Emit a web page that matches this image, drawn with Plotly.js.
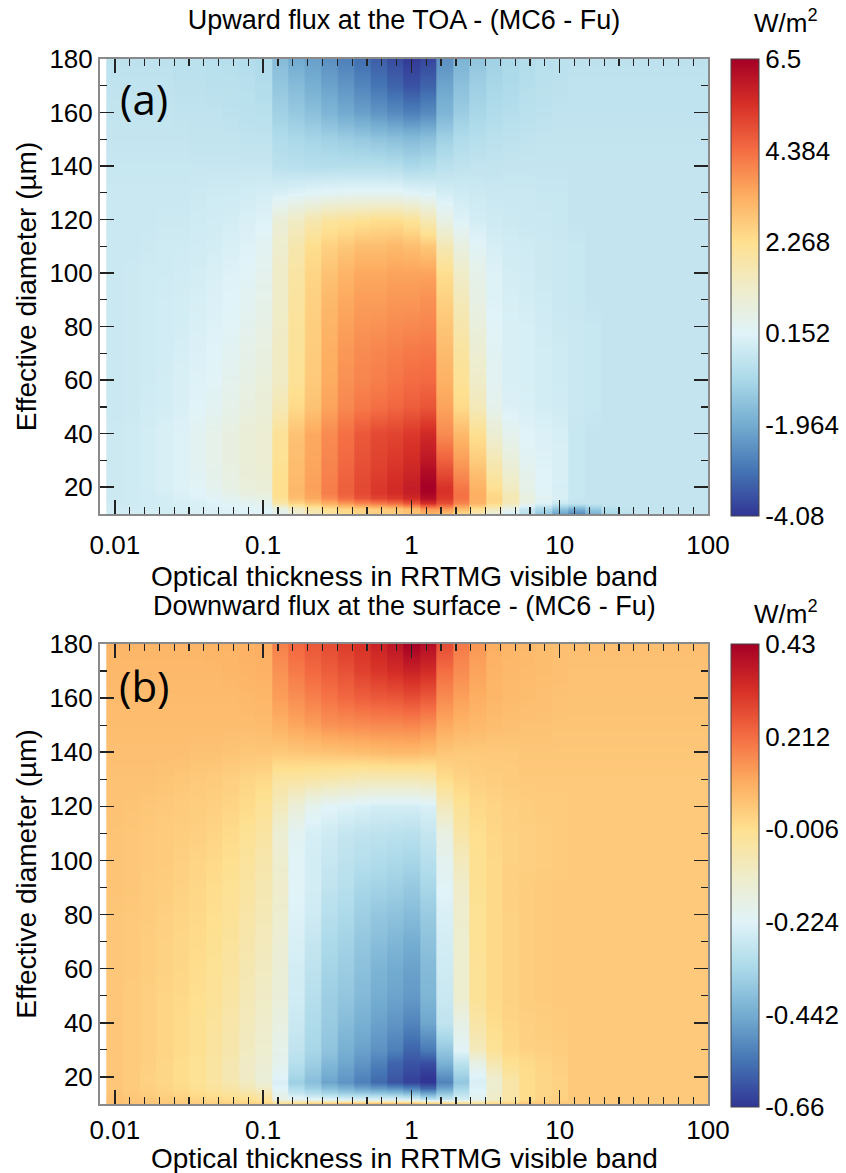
<!DOCTYPE html>
<html><head><meta charset="utf-8">
<script src="https://cdn.plot.ly/plotly-3.0.1.min.js"></script>
<style>html,body{margin:0;padding:0;background:#fff}#chart{width:846px;height:1173px}</style>
</head><body><div id="chart"></div>
<script>
// Optical thickness grid (column centres)
const tau = [0.01,0.01292,0.01668,0.02154,0.02783,0.03594,0.04642,0.05995,0.07743,
  0.1,0.1292,0.1668,0.2154,0.2783,0.3594,0.4642,0.5995,0.7743,
  1,1.292,1.668,2.154,2.783,3.594,4.642,5.995,7.743,
  10,12.92,16.68,21.54,27.83,35.94,46.42,59.95,77.43,100];
// Effective diameter rows (um)
const diameter = [10,12,14,16,18,20,25,30,40,50,60,70,80,90,100,110,120,130,140,150,160,170,180];

// (a) Upward flux at TOA, MC6 - Fu (W/m2); one row per diameter
const toaDiff = [
 [-0.15,-0.15,-0.1,-0.1,-0.05,0.0,0.0,0.05,0.1,0.1, 0.4,1.0,1.6,2.0,2.3,2.5,2.6,2.7,2.9,3.2,3.0,2.4,1.6,0.8,-0.1,-0.6,-1.4,-2.2, -2.7,-1.9,-1.0,-0.6,-0.4,-0.4,-0.4,-0.4,-0.4],
 [-0.15,-0.15,-0.1,-0.1,-0.05,0.0,0.05,0.1,0.15,0.2, 0.6,1.2,1.8,2.2,2.5,2.6,2.7,2.8,3.0,3.6,3.6,3.0,2.2,1.4,0.5,-0.4,-0.9,-1.5, -1.9,-1.3,-0.7,-0.45,-0.4,-0.4,-0.4,-0.4,-0.4],
 [-0.2,-0.2,-0.15,-0.1,-0.05,0.0,0.1,0.2,0.3,0.4, 1.8,2.5,2.9,3.3,3.7,4.0,4.2,4.4,4.8,5.5,4.9,4.0,3.2,2.4,1.5,0.6,0.1,-0.3, -0.45,-0.4,-0.4,-0.4,-0.4,-0.4,-0.4,-0.4,-0.4],
 [-0.25,-0.2,-0.15,-0.1,0.0,0.1,0.2,0.35,0.5,0.6, 2.2,3.0,3.4,3.9,4.4,4.8,5.1,5.3,5.6,6.2,5.3,4.3,3.3,2.5,1.6,0.7,0.3,0.0, -0.35,-0.4,-0.4,-0.4,-0.4,-0.4,-0.4,-0.4,-0.4],
 [-0.25,-0.2,-0.15,-0.05,0.05,0.15,0.3,0.5,0.7,0.8, 2.3,3.1,3.5,4.1,4.6,5.0,5.3,5.5,5.8,6.4,5.4,4.3,3.3,2.4,1.5,0.6,0.2,0.0, -0.35,-0.4,-0.4,-0.4,-0.4,-0.4,-0.4,-0.4,-0.4],
 [-0.25,-0.2,-0.1,0.0,0.1,0.2,0.4,0.6,0.8,0.9, 2.3,3.1,3.55,4.1,4.6,5.0,5.3,5.55,5.85,6.5,5.4,4.2,3.2,2.2,1.3,0.5,0.15,-0.05, -0.35,-0.4,-0.4,-0.4,-0.4,-0.4,-0.4,-0.4,-0.4],
 [-0.25,-0.2,-0.1,0.0,0.1,0.25,0.45,0.65,0.85,0.95, 2.25,3.05,3.5,4.05,4.55,4.95,5.2,5.45,5.7,6.3,5.0,3.9,3.0,1.9,1.1,0.45,0.15,0.0, -0.35,-0.4,-0.4,-0.4,-0.4,-0.4,-0.4,-0.4,-0.4],
 [-0.25,-0.2,-0.1,0.0,0.1,0.3,0.5,0.7,0.9,1.0, 2.2,3.0,3.45,4.0,4.45,4.85,5.1,5.3,5.55,6.0,4.6,3.6,2.7,1.6,0.8,0.3,0.1,0.0, -0.35,-0.4,-0.4,-0.4,-0.4,-0.4,-0.4,-0.4,-0.4],
 [-0.25,-0.2,-0.1,0.0,0.1,0.3,0.5,0.7,0.9,1.0, 2.1,2.9,3.4,3.9,4.35,4.75,5.0,5.1,5.3,5.6,3.9,3.1,2.25,1.0,0.4,0.15,0.05,-0.05, -0.35,-0.4,-0.4,-0.4,-0.4,-0.4,-0.4,-0.4,-0.4],
 [-0.3,-0.25,-0.15,-0.1,0.0,0.15,0.3,0.5,0.7,0.9, 1.6,2.4,2.9,3.5,3.95,4.2,4.35,4.5,4.65,4.8,3.5,2.4,1.5,0.45,0.05,0.0,-0.1,-0.15, -0.3,-0.35,-0.4,-0.4,-0.4,-0.4,-0.4,-0.4,-0.4],
 [-0.3,-0.25,-0.2,-0.1,0.0,0.1,0.2,0.4,0.6,0.8, 1.3,2.15,2.75,3.35,3.8,4.0,4.1,4.25,4.4,4.45,3.25,2.15,1.2,0.3,0.0,-0.05,-0.1,-0.2, -0.3,-0.35,-0.4,-0.4,-0.4,-0.4,-0.4,-0.4,-0.4],
 [-0.3,-0.25,-0.2,-0.15,-0.05,0.05,0.15,0.3,0.5,0.7, 1.3,2.1,2.7,3.3,3.7,3.9,4.0,4.1,4.2,4.25,3.05,2.0,1.0,0.25,0.0,-0.05,-0.1,-0.2, -0.3,-0.35,-0.4,-0.4,-0.4,-0.4,-0.4,-0.4,-0.4],
 [-0.3,-0.25,-0.2,-0.15,-0.1,0.0,0.1,0.2,0.4,0.6, 1.25,2.05,2.65,3.2,3.55,3.75,3.8,3.9,3.95,4.0,2.85,1.75,0.8,0.2,0.0,-0.05,-0.15,-0.25, -0.3,-0.35,-0.4,-0.4,-0.4,-0.4,-0.4,-0.4,-0.4],
 [-0.3,-0.25,-0.2,-0.15,-0.1,-0.05,0.05,0.15,0.3,0.5, 1.2,2.0,2.6,3.1,3.4,3.6,3.6,3.7,3.7,3.8,2.6,1.5,0.6,0.1,-0.05,-0.1,-0.2,-0.3, -0.35,-0.4,-0.4,-0.4,-0.4,-0.4,-0.4,-0.4,-0.4],
 [-0.3,-0.25,-0.2,-0.2,-0.15,-0.1,0.0,0.1,0.2,0.4, 1.2,1.9,2.5,2.9,3.2,3.4,3.4,3.5,3.5,3.5,2.3,1.2,0.5,0.1,-0.1,-0.15,-0.25,-0.3, -0.35,-0.4,-0.4,-0.4,-0.4,-0.4,-0.4,-0.4,-0.4],
 [-0.3,-0.3,-0.25,-0.2,-0.2,-0.15,-0.1,0.0,0.1,0.3, 1.1,1.7,2.3,2.6,2.8,3.0,3.0,3.1,3.0,2.8,1.6,0.7,0.2,-0.05,-0.15,-0.2,-0.25,-0.3, -0.35,-0.4,-0.4,-0.4,-0.4,-0.4,-0.4,-0.4,-0.4],
 [-0.3,-0.3,-0.3,-0.25,-0.25,-0.2,-0.15,-0.1,0.0,0.1, 0.9,1.3,1.7,2.0,2.1,2.2,2.3,2.3,2.1,1.6,0.6,0.1,-0.1,-0.2,-0.25,-0.3,-0.3,-0.35, -0.4,-0.4,-0.4,-0.4,-0.4,-0.4,-0.4,-0.4,-0.4],
 [-0.3,-0.3,-0.3,-0.3,-0.3,-0.25,-0.2,-0.2,-0.15,-0.1, 0.0,0.1,0.2,0.25,0.3,0.3,0.3,0.3,0.2,0.1,-0.1,-0.2,-0.25,-0.3,-0.3,-0.3,-0.35,-0.35, -0.4,-0.4,-0.4,-0.4,-0.4,-0.4,-0.4,-0.4,-0.4],
 [-0.35,-0.35,-0.35,-0.35,-0.35,-0.35,-0.35,-0.35,-0.35,-0.35, -0.6,-0.65,-0.7,-0.7,-0.7,-0.7,-0.7,-0.75,-0.9,-0.8,-0.6,-0.5,-0.45,-0.45,-0.4,-0.4,-0.4,-0.4, -0.4,-0.4,-0.4,-0.4,-0.4,-0.4,-0.4,-0.4,-0.4],
 [-0.4,-0.4,-0.4,-0.4,-0.4,-0.45,-0.45,-0.45,-0.5,-0.5, -0.8,-0.9,-1.0,-1.1,-1.2,-1.3,-1.4,-1.5,-1.6,-1.5,-1.1,-0.8,-0.7,-0.6,-0.55,-0.5,-0.45,-0.45, -0.45,-0.45,-0.45,-0.45,-0.45,-0.45,-0.45,-0.45,-0.45],
 [-0.45,-0.45,-0.45,-0.45,-0.5,-0.5,-0.5,-0.55,-0.6,-0.65, -1.1,-1.3,-1.5,-1.75,-2.0,-2.2,-2.4,-2.6,-2.8,-2.6,-1.75,-1.2,-0.95,-0.8,-0.7,-0.6,-0.55,-0.5, -0.5,-0.5,-0.5,-0.5,-0.5,-0.5,-0.5,-0.5,-0.5],
 [-0.5,-0.5,-0.5,-0.5,-0.55,-0.55,-0.6,-0.6,-0.65,-0.75, -1.35,-1.6,-1.9,-2.15,-2.4,-2.7,-3.0,-3.3,-3.6,-3.3,-2.1,-1.5,-1.15,-0.95,-0.85,-0.7,-0.6,-0.55, -0.5,-0.5,-0.5,-0.5,-0.5,-0.5,-0.5,-0.5,-0.5],
 [-0.55,-0.55,-0.55,-0.55,-0.6,-0.6,-0.65,-0.7,-0.75,-0.85, -1.6,-2.0,-2.2,-2.5,-2.8,-3.1,-3.4,-3.7,-4.0,-3.8,-2.5,-1.8,-1.4,-1.1,-0.9,-0.75,-0.65,-0.6, -0.55,-0.55,-0.55,-0.55,-0.55,-0.55,-0.55,-0.55,-0.55]
];

// (b) Downward flux at the surface, MC6 - Fu (W/m2)
const sfcDiff = [
 [0.065,0.06,0.055,0.05,0.045,0.04,0.035,0.03,0.03,0.03, 0.02,0.05,0.08,0.1,0.12,0.12,0.12,0.12,0.12,0.1,0.08,0.05,0.02,0.03,0.04,0.05,0.05,0.05, 0.045,0.045,0.045,0.045,0.045,0.045,0.045,0.045,0.045],
 [0.06,0.05,0.045,0.035,0.03,0.02,0.01,0.0,-0.01,-0.03, -0.18,-0.2,-0.22,-0.23,-0.24,-0.24,-0.24,-0.24,-0.25,-0.3,-0.28,-0.25,-0.2,-0.12,-0.05,0.0,0.02,0.03, 0.045,0.045,0.045,0.045,0.045,0.045,0.045,0.045,0.045],
 [0.055,0.045,0.035,0.025,0.015,0.0,-0.015,-0.03,-0.05,-0.07, -0.2,-0.28,-0.31,-0.34,-0.36,-0.37,-0.38,-0.39,-0.41,-0.46,-0.38,-0.3,-0.22,-0.12,-0.05,0.0,0.015,0.025, 0.045,0.045,0.045,0.045,0.045,0.045,0.045,0.045,0.045],
 [0.05,0.04,0.03,0.02,0.005,-0.01,-0.03,-0.05,-0.08,-0.11, -0.22,-0.32,-0.36,-0.40,-0.43,-0.46,-0.48,-0.5,-0.53,-0.58,-0.46,-0.34,-0.23,-0.13,-0.05,0.0,0.015,0.025, 0.045,0.045,0.045,0.045,0.045,0.045,0.045,0.045,0.045],
 [0.05,0.04,0.025,0.015,0.0,-0.015,-0.04,-0.065,-0.1,-0.14, -0.24,-0.36,-0.40,-0.46,-0.49,-0.53,-0.57,-0.61,-0.64,-0.66,-0.52,-0.38,-0.24,-0.13,-0.05,0.0,0.015,0.025, 0.045,0.045,0.045,0.045,0.045,0.045,0.045,0.045,0.045],
 [0.05,0.04,0.025,0.015,0.0,-0.015,-0.04,-0.07,-0.11,-0.15, -0.22,-0.34,-0.39,-0.445,-0.48,-0.52,-0.56,-0.6,-0.635,-0.66,-0.5,-0.36,-0.23,-0.12,-0.04,0.0,0.015,0.025, 0.045,0.045,0.045,0.045,0.045,0.045,0.045,0.045,0.045],
 [0.05,0.04,0.03,0.015,0.0,-0.015,-0.04,-0.07,-0.11,-0.14, -0.2,-0.31,-0.36,-0.415,-0.455,-0.49,-0.53,-0.58,-0.61,-0.62,-0.43,-0.3,-0.18,-0.07,-0.01,0.005,0.02,0.03, 0.045,0.045,0.045,0.045,0.045,0.045,0.045,0.045,0.045],
 [0.05,0.04,0.03,0.02,0.005,-0.01,-0.035,-0.06,-0.1,-0.13, -0.19,-0.29,-0.34,-0.385,-0.435,-0.465,-0.495,-0.53,-0.58,-0.54,-0.38,-0.22,-0.09,-0.02,0.01,0.025,0.03,0.035, 0.045,0.045,0.045,0.045,0.045,0.045,0.045,0.045,0.045],
 [0.05,0.04,0.03,0.02,0.005,-0.01,-0.03,-0.055,-0.09,-0.12, -0.17,-0.27,-0.325,-0.37,-0.405,-0.435,-0.465,-0.49,-0.52,-0.455,-0.29,-0.18,-0.05,0.0,0.02,0.03,0.035,0.04, 0.045,0.045,0.045,0.045,0.045,0.045,0.045,0.045,0.045],
 [0.05,0.04,0.03,0.02,0.01,-0.005,-0.02,-0.045,-0.08,-0.11, -0.15,-0.255,-0.31,-0.36,-0.38,-0.41,-0.44,-0.46,-0.48,-0.42,-0.27,-0.13,-0.02,0.01,0.025,0.035,0.04,0.045, 0.045,0.045,0.045,0.045,0.045,0.045,0.045,0.045,0.045],
 [0.05,0.045,0.035,0.025,0.015,0.0,-0.015,-0.035,-0.07,-0.1, -0.145,-0.25,-0.295,-0.345,-0.365,-0.395,-0.425,-0.445,-0.465,-0.41,-0.26,-0.13,-0.02,0.01,0.025,0.035,0.04,0.045, 0.045,0.045,0.045,0.045,0.045,0.045,0.045,0.045,0.045],
 [0.05,0.045,0.035,0.025,0.015,0.005,-0.01,-0.03,-0.06,-0.09, -0.14,-0.24,-0.28,-0.33,-0.35,-0.38,-0.40,-0.42,-0.44,-0.39,-0.25,-0.13,-0.015,0.01,0.025,0.035,0.04,0.045, 0.045,0.045,0.045,0.045,0.045,0.045,0.045,0.045,0.045],
 [0.05,0.045,0.04,0.03,0.02,0.01,-0.005,-0.02,-0.05,-0.08, -0.13,-0.23,-0.26,-0.31,-0.33,-0.36,-0.38,-0.39,-0.405,-0.37,-0.24,-0.125,-0.015,0.01,0.025,0.035,0.04,0.045, 0.045,0.045,0.045,0.045,0.045,0.045,0.045,0.045,0.045],
 [0.055,0.05,0.04,0.035,0.025,0.015,0.0,-0.015,-0.04,-0.07, -0.12,-0.22,-0.25,-0.29,-0.31,-0.34,-0.35,-0.36,-0.375,-0.34,-0.22,-0.12,-0.01,0.01,0.03,0.035,0.04,0.045, 0.045,0.045,0.045,0.045,0.045,0.045,0.045,0.045,0.045],
 [0.055,0.05,0.045,0.04,0.03,0.02,0.01,-0.005,-0.03,-0.06, -0.13,-0.22,-0.25,-0.275,-0.295,-0.31,-0.32,-0.33,-0.34,-0.31,-0.2,-0.09,-0.01,0.01,0.025,0.03,0.035,0.04, 0.045,0.045,0.045,0.045,0.045,0.045,0.045,0.045,0.045],
 [0.055,0.05,0.045,0.04,0.035,0.03,0.02,0.005,-0.015,-0.04, -0.14,-0.21,-0.245,-0.26,-0.28,-0.29,-0.295,-0.30,-0.305,-0.28,-0.17,-0.05,-0.005,0.015,0.025,0.03,0.035,0.04, 0.045,0.045,0.045,0.045,0.045,0.045,0.045,0.045,0.045],
 [0.06,0.055,0.05,0.045,0.04,0.035,0.03,0.02,0.005,-0.02, -0.09,-0.15,-0.2,-0.22,-0.23,-0.24,-0.25,-0.25,-0.25,-0.24,-0.09,-0.02,0.01,0.02,0.03,0.035,0.04,0.04, 0.045,0.045,0.045,0.045,0.045,0.045,0.045,0.045,0.045],
 [0.06,0.06,0.06,0.055,0.05,0.045,0.04,0.03,0.02,0.01, -0.04,-0.04,-0.05,-0.06,-0.07,-0.08,-0.08,-0.08,-0.08,-0.07,0.0,0.02,0.03,0.035,0.04,0.045,0.045,0.045, 0.045,0.045,0.045,0.045,0.045,0.045,0.045,0.045,0.045],
 [0.065,0.065,0.065,0.065,0.065,0.06,0.06,0.055,0.05,0.05, 0.045,0.05,0.055,0.06,0.065,0.07,0.075,0.08,0.08,0.07,0.05,0.045,0.045,0.045,0.045,0.05,0.05,0.05, 0.05,0.05,0.05,0.05,0.05,0.05,0.05,0.05,0.05],
 [0.07,0.07,0.07,0.07,0.07,0.07,0.07,0.07,0.07,0.075, 0.095,0.115,0.13,0.15,0.155,0.16,0.165,0.165,0.17,0.155,0.11,0.09,0.08,0.07,0.065,0.06,0.06,0.055, 0.055,0.055,0.055,0.055,0.055,0.055,0.055,0.055,0.055],
 [0.075,0.075,0.075,0.075,0.075,0.075,0.075,0.075,0.08,0.085, 0.13,0.155,0.18,0.20,0.22,0.235,0.245,0.25,0.265,0.245,0.16,0.125,0.10,0.085,0.075,0.07,0.065,0.06, 0.058,0.058,0.058,0.058,0.058,0.058,0.058,0.058,0.058],
 [0.08,0.08,0.08,0.08,0.08,0.08,0.08,0.085,0.09,0.095, 0.15,0.19,0.22,0.24,0.26,0.29,0.31,0.33,0.35,0.33,0.21,0.16,0.12,0.09,0.08,0.075,0.07,0.065, 0.06,0.06,0.06,0.06,0.06,0.06,0.06,0.06,0.06],
 [0.085,0.085,0.085,0.085,0.085,0.085,0.09,0.09,0.095,0.1, 0.18,0.22,0.25,0.27,0.30,0.32,0.35,0.38,0.43,0.40,0.27,0.19,0.14,0.10,0.085,0.08,0.07,0.065, 0.065,0.065,0.065,0.065,0.065,0.065,0.065,0.065,0.065]
];

const xTickVals = [0.01, 0.1, 1, 10, 100];
const xTickText = ['0.01', '0.1', '1', '10', '100'];
const yTickVals = [20, 40, 60, 80, 100, 120, 140, 160, 180];
const cbTicksTOA = [-4.08, -1.964, 0.152, 2.268, 4.384, 6.5];
const cbTicksSFC = [-0.66, -0.442, -0.224, -0.006, 0.212, 0.43];

const rdylbu = [[0,'#313695'],[0.1,'#4575b4'],[0.2,'#74add1'],[0.3,'#abd9e9'],[0.4,'#e0f3f8'],
  [0.5,'#efecc9'],[0.6,'#fee090'],[0.7,'#fdae61'],[0.8,'#f46d43'],[0.9,'#d73027'],[1,'#a50026']];

// Each optical-thickness column is drawn as a flat block (its value repeated at both
// block edges) while the 'best' shading blends between diameter rows.
function blockColumns(x, z) {
  const lg = x.map(v => Math.log10(v));
  const n = lg.length, d = 0.004;
  const edges = [];
  for (let i = 0; i <= n; i++) {
    if (i === 0) edges.push(lg[0] - (lg[1] - lg[0]) / 2);
    else if (i === n) edges.push(lg[n-1] + (lg[n-1] - lg[n-2]) / 2);
    else edges.push((lg[i-1] + lg[i]) / 2);
  }
  const xs = [Math.pow(10, edges[0])], idx = [0];
  for (let i = 0; i < n; i++) {
    xs.push(Math.pow(10, edges[i] + d)); idx.push(i);
    xs.push(Math.pow(10, edges[i+1] - d)); idx.push(i);
  }
  return {x: xs, z: z.map(row => idx.map(j => row[j]))};
}

const W = 846, H = 1173;
const FONT = '"Liberation Sans", Arial, sans-serif';
const gA = blockColumns(tau, toaDiff);
const gB = blockColumns(tau, sfcDiff);

function cbar(top, len, ticks) {
  return {x: 731/W, xanchor: 'left', xpad: 0, ypad: 0, y: 1 - top/H, yanchor: 'top',
    len: len, lenmode: 'pixels', thickness: 28, thicknessmode: 'pixels',
    tickmode: 'array', tickvals: ticks, ticktext: ticks.map(String),
    ticks: '', ticklabelpad: 3, tickfont: {size: 26, family: FONT, color: '#000'},
    outlinewidth: 1, outlinecolor: '#444'};
}

const traces = [
  {type: 'heatmap', x: gA.x, y: diameter, z: gA.z, xaxis: 'x', yaxis: 'y',
   zsmooth: 'best', colorscale: rdylbu, zmin: -4.08, zmax: 6.5,
   colorbar: cbar(59, 457, cbTicksTOA), hoverinfo: 'skip'},
  {type: 'heatmap', x: gB.x, y: diameter, z: gB.z, xaxis: 'x2', yaxis: 'y2',
   zsmooth: 'best', colorscale: rdylbu, zmin: -0.66, zmax: 0.43,
   colorbar: cbar(644, 463, cbTicksSFC), hoverinfo: 'skip'}
];

function xAxis(anchor, standoff) {
  return {type: 'log', domain: [100/W, 708/W], range: [-2.1, 2.0], anchor: anchor,
    tickmode: 'array', tickvals: xTickVals, ticktext: xTickText,
    ticks: 'inside', ticklen: 14, tickwidth: 1.5, tickcolor: '#222',
    minor: {tickmode: 'linear', tick0: 0, dtick: 0.1, ticks: 'inside', ticklen: 7, tickwidth: 1.2, tickcolor: '#222'},
    showline: true, linecolor: '#8a8a8a', linewidth: 2, mirror: 'allticks',
    showgrid: false, zeroline: false, ticklabelstandoff: standoff,
    tickfont: {size: 26, family: FONT, color: '#000'}};
}
function yAxis(anchor, dom) {
  return {domain: dom, range: [10, 180], anchor: anchor,
    tickmode: 'array', tickvals: yTickVals,
    ticks: 'inside', ticklen: 14, tickwidth: 1.5, tickcolor: '#222',
    minor: {tickmode: 'linear', tick0: 0, dtick: 10, ticks: 'inside', ticklen: 7, tickwidth: 1.2, tickcolor: '#222'},
    showline: true, linecolor: '#8a8a8a', linewidth: 2, mirror: 'allticks',
    showgrid: false, zeroline: false,
    tickfont: {size: 26, family: FONT, color: '#000'},
    title: {text: 'Effective diameter (µm)', font: {size: 28, family: FONT, color: '#000'}, standoff: 5}};
}

function note(text, x, y, size, family) {
  return {text: text, xref: 'paper', yref: 'paper', x: x/W, y: 1 - y/H,
    xanchor: 'center', yanchor: 'middle', showarrow: false,
    font: {size: size, family: family || FONT, color: '#000'}};
}

const XTITLE = 'Optical thickness in RRTMG visible band';
const layout = {
  width: W, height: H, margin: {l: 0, r: 0, t: 0, b: 0},
  paper_bgcolor: '#fff', plot_bgcolor: '#fff',
  font: {family: FONT, color: '#000'},
  title: {text: 'Upward flux at the TOA - (MC6 - Fu)', x: 404/W, xanchor: 'center',
          y: 1 - 20/H, yanchor: 'middle', font: {size: 27, family: FONT, color: '#000'}},
  xaxis: xAxis('y', 7), yaxis: yAxis('x', [1 - 514/H, 1 - 59/H]),
  xaxis2: xAxis('y2', 2), yaxis2: yAxis('x2', [1 - 1104/H, 1 - 644/H]),
  annotations: [
    note(XTITLE, 404, 576, 28),
    note(XTITLE, 404, 1158, 28),
    note('Downward flux at the surface - (MC6 - Fu)', 404, 606, 27),
    note('W/m<sup>2</sup>', 786, 22, 26),
    note('W/m<sup>2</sup>', 786, 612, 26),
    note('(a)', 144, 98, 42, '"Open Sans", "Noto Sans", sans-serif'),
    note('(b)', 144, 685, 42, '"Open Sans", "Noto Sans", sans-serif')
  ]
};

Plotly.newPlot('chart', traces, layout, {staticPlot: true, displayModeBar: false});
</script>
</body></html>
